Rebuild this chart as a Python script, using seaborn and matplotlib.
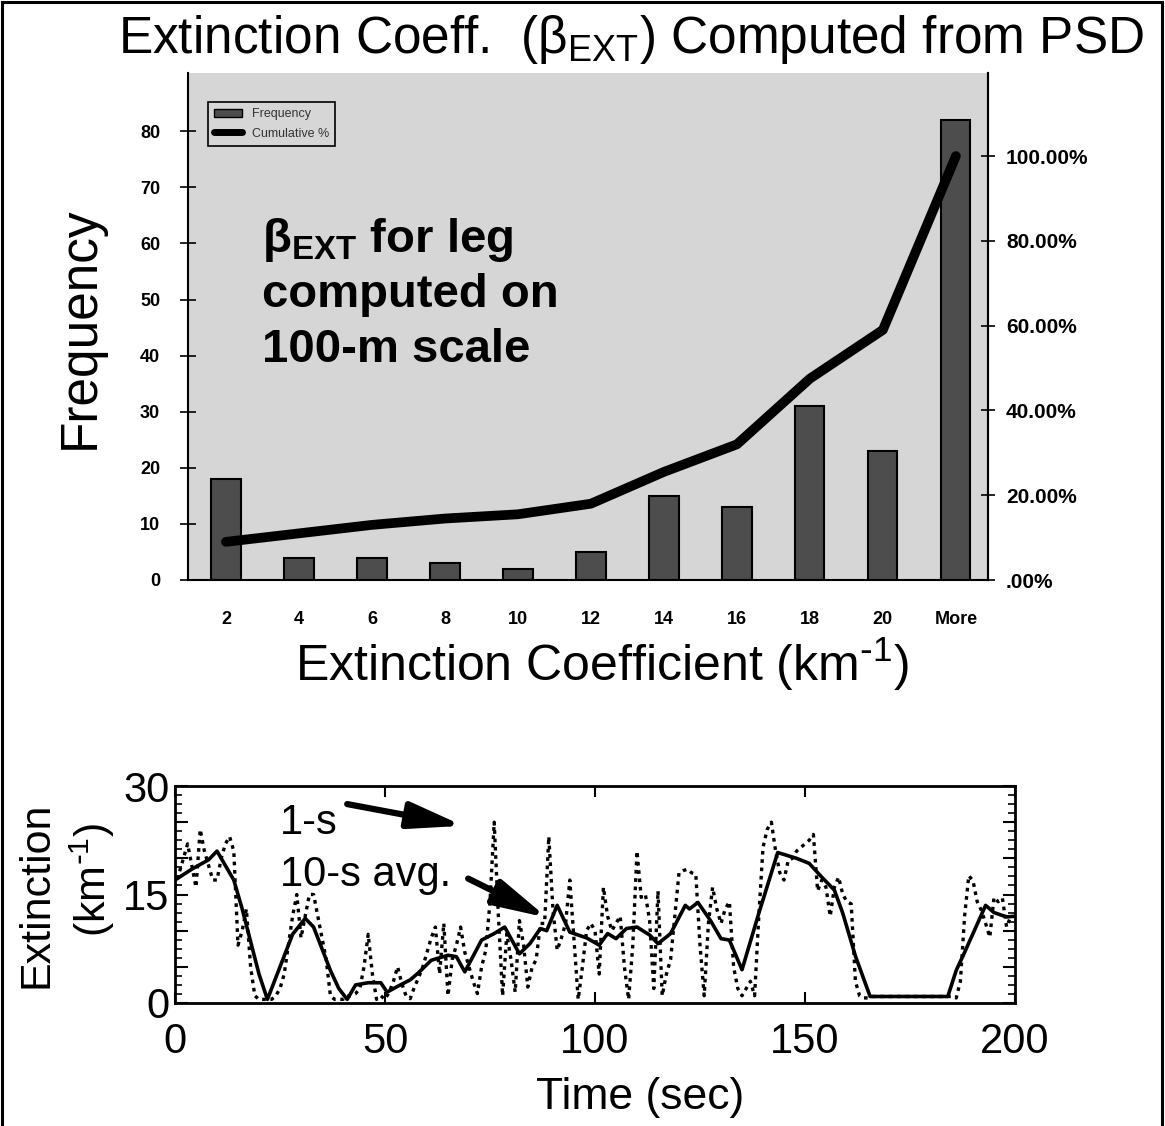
import numpy as np
import pandas as pd
import matplotlib
matplotlib.use("Agg")
import matplotlib.pyplot as plt
import seaborn as sns
from matplotlib.patches import Patch, Rectangle
from matplotlib.lines import Line2D
from matplotlib.ticker import MultipleLocator, FixedLocator

# ---------------- data ----------------
bin_labels = ["2", "4", "6", "8", "10", "12", "14", "16", "18", "20", "More"]
frequency = [18, 4, 4, 3, 2, 5, 15, 13, 31, 23, 82]
cumulative_pct = [9.0, 11.0, 13.0, 14.5, 15.5, 18.0, 25.5, 32.0, 47.5, 59.0, 100.0]
pct_ticks = [0, 20, 40, 60, 80, 100]
pct_tick_labels = [".00%", "20.00%", "40.00%", "60.00%", "80.00%", "100.00%"]
freq_ticks = [0, 10, 20, 30, 40, 50, 60, 70, 80]

# 1-s extinction (km^-1), t = 0..199 s
ext_1s = [
    16, 18, 20, 22, 19, 16, 24, 21, 19, 17,
    17, 20, 22, 23, 21, 8, 10, 13, 5, 1,
    0.5, 0.5, 0.5, 0.5, 1, 2, 4, 8, 12, 15,
    9, 12, 15, 15, 12, 9, 6, 1, 0.5, 0.5,
    0.5, 1, 1, 1.3, 2, 5, 9.5, 4, 0.5, 1,
    0.5, 1.5, 3, 5, 2.7, 1, 0.6, 2.2, 3.5, 5,
    7, 9, 10.5, 4, 11, 1, 6, 8, 10.5, 7,
    5, 3, 1.3, 5, 7.3, 14, 25, 12, 1, 9.6,
    6, 1.5, 11.4, 8, 2.2, 4.9, 6, 11, 11, 23,
    12.8, 7.3, 9, 11, 17, 8.7, 0.5, 5, 10, 11,
    10, 4, 16, 12, 10, 11, 12, 5, 0.5, 8,
    21, 14.6, 15, 11.4, 2, 15.5, 1, 4, 6, 12,
    18, 18.3, 18.5, 18, 17.8, 8, 1, 11, 16, 13,
    11, 13, 14, 5, 2, 1, 2, 3, 1, 12,
    21.5, 24, 25, 21, 18, 17, 19.7, 20, 21, 21.5,
    22, 22.5, 23.3, 15.5, 17, 16, 12, 16, 17.4, 15,
    14, 13.7, 3, 1, 0.7, 0.7, 0.9, 0.9, 0.9, 0.9,
    0.9, 0.9, 0.9, 0.9, 0.9, 0.9, 0.9, 0.9, 0.9, 0.9,
    0.9, 0.9, 0.9, 0.9, 0.9, 0.9, 0.7, 3, 12, 17.6,
    16.9, 14, 12.8, 11, 9.1, 14.6, 14, 14.5, 10.5, 12,
]
time_1s = list(range(len(ext_1s)))

# 10-s average, read at its vertices
time_10s = [0, 4, 8, 10, 12, 14, 16, 18, 20, 22, 24, 26, 28, 31, 33, 35, 37, 39, 41,
            43, 46, 49, 50.5, 53, 56, 58, 61, 65, 67, 69, 71, 73, 76, 78.5, 82, 84.5,
            87, 88.5, 91, 94, 98, 101, 103, 105, 107.5, 110, 113, 115, 118, 121.5,
            122.5, 124.5, 127.5, 130, 132, 135, 139, 143.5, 148, 151, 154, 157, 159,
            162, 165.5, 184, 186, 188, 190, 193, 195, 198, 200]
ext_10s = [17.0, 18.5, 19.8, 21.0, 19.0, 17.0, 13.0, 8.5, 4.0, 0.5, 3.5, 6.5, 9.5, 11.7,
           10.5, 7.5, 4.5, 2.0, 0.5, 2.5, 2.8, 2.8, 1.5, 2.3, 3.2, 4.2, 5.9, 6.6, 6.4,
           4.3, 6.5, 8.7, 9.6, 10.5, 6.8, 8.2, 10.3, 10.0, 13.5, 9.8, 9.0, 8.0, 9.6, 8.9,
           10.3, 10.5, 9.4, 8.2, 9.6, 13.5, 13.0, 13.9, 11.4, 8.9, 8.7, 4.6, 12.4, 20.8,
           20.0, 19.3, 17.4, 15.6, 12.4, 6.5, 0.9, 0.9, 4.5, 7.0, 9.6, 13.5, 12.5, 11.9,
           12.0]
time_ticks = [0, 50, 100, 150, 200]

# ---------------- style ----------------
sns.set_style("white")
plt.rcParams["font.family"] = ["Liberation Sans", "DejaVu Sans"]
plt.rcParams["axes.linewidth"] = 1.5
for key in ["text.color", "axes.labelcolor", "xtick.color", "ytick.color", "axes.edgecolor"]:
    plt.rcParams[key] = "black"

W, H = 1165, 1126
fig = plt.figure(figsize=(W / 100, H / 100), dpi=100)

def fx(px):
    return px / W

def fy(py):
    return 1 - py / H

# ---------------- top: histogram ----------------
ax = fig.add_axes([fx(188), fy(580), fx(988) - fx(188), fy(73) - fy(580)])
ax.set_facecolor("#d6d6d6")
sns.barplot(x=bin_labels, y=frequency, order=bin_labels, color="#4d4d4d",
            saturation=1, width=0.4, edgecolor="black", linewidth=1.5, ax=ax)
ax.set_xlim(-0.52, 10.44)
ax.set_ylim(0, 90.4)
ax.set_xlabel("")
ax.set_ylabel("")
ax.set_yticks(freq_ticks)
ax.set_yticklabels([str(v) for v in freq_ticks], fontsize=13, fontweight="bold")
ax.set_xticks(range(len(bin_labels)))
ax.set_xticklabels(bin_labels, fontsize=13, fontweight="bold")
ax.xaxis.set_minor_locator(FixedLocator(np.arange(0.5, 10, 1.0)))
ax.tick_params(axis="x", which="major", length=0, pad=22)
ax.tick_params(axis="x", which="minor", length=10, width=1.2, direction="inout")
ax.tick_params(axis="y", which="major", length=12, width=1.2, direction="inout", pad=14, left=True)
for s in ["left", "bottom", "right"]:
    ax.spines[s].set_visible(True)
    ax.spines[s].set_color("black")
ax.spines["top"].set_visible(False)

ax2 = ax.twinx()
sns.lineplot(x=list(range(len(cumulative_pct))), y=cumulative_pct, color="black",
             linewidth=7, ax=ax2, legend=False)
ax2.set_ylim(0, 119.6)
ax2.set_ylabel("")
ax2.set_yticks(pct_ticks)
ax2.set_yticklabels(pct_tick_labels, fontsize=15, fontweight="bold")
ax2.tick_params(axis="y", length=10, width=1.2, direction="inout", pad=8, right=True)
for s in ["left", "bottom", "top"]:
    ax2.spines[s].set_visible(False)
ax2.spines["right"].set_visible(True)
ax2.spines["right"].set_color("black")

handles = [Patch(facecolor="#4d4d4d", edgecolor="black", label="Frequency"),
           Line2D([0], [0], color="black", lw=5, label="Cumulative %")]
leg = ax2.legend(handles=handles, loc="upper left", bbox_to_anchor=(0.017, 0.955),
                 fontsize=9, frameon=True, fancybox=False, edgecolor="black",
                 facecolor="#d6d6d6", framealpha=1, borderpad=0.5, handlelength=2.2,
                 labelspacing=0.6)
leg.get_frame().set_linewidth(1.2)
for t in leg.get_texts():
    t.set_color("#333333")

fig.text(fx(262), fy(240), r"$\mathregular{\beta_{EXT}}$ for leg", fontsize=34,
         fontweight="bold", ha="left", va="center", color="black")
fig.text(fx(262), fy(295), "computed on", fontsize=34, fontweight="bold",
         ha="left", va="center", color="black")
fig.text(fx(262), fy(350), "100-m scale", fontsize=34, fontweight="bold",
         ha="left", va="center", color="black")

fig.text(fx(631), fy(53), r"Extinction Coeff.  ($\mathregular{\beta_{EXT}}$) Computed from PSD",
         fontsize=37, ha="center", va="baseline", color="black")
fig.text(fx(602), fy(681), r"Extinction Coefficient (km$\mathregular{^{\text{-}1}}$)",
         fontsize=36, ha="center", va="baseline", color="black")
fig.text(fx(80), fy(328), "Frequency", fontsize=37, rotation=90, ha="center", va="center",
         color="black")

# ---------------- bottom: time series ----------------
bx = fig.add_axes([fx(175), fy(1003), fx(1015) - fx(175), fy(786) - fy(1003)])
bx.set_facecolor("white")
sns.lineplot(x=time_1s, y=ext_1s, color="black", linewidth=2.4,
             linestyle=(0, (1.1, 1.4)), ax=bx, estimator=None)
sns.lineplot(x=time_10s, y=ext_10s, color="black", linewidth=2.6, ax=bx, estimator=None)
bx.set_xlim(0, 200)
bx.set_ylim(0, 30)
bx.set_xlabel("")
bx.set_ylabel("")
bx.set_xticks(time_ticks)
bx.set_xticklabels([str(t) for t in time_ticks], fontsize=30)
bx.set_yticks([0, 5, 10, 15, 20, 25, 30])
bx.set_yticklabels(["0", "", "", "15", "", "", "30"], fontsize=30)
bx.yaxis.set_minor_locator(MultipleLocator(1.25))
bx.tick_params(axis="x", which="major", direction="in", length=8, width=1.5,
               top=True, bottom=True, pad=14)
bx.tick_params(axis="y", which="major", direction="in", length=9, width=1.5,
               left=True, right=True, pad=4)
bx.tick_params(axis="y", which="minor", direction="in", length=5, width=1.2,
               left=True, right=True)
for s in bx.spines.values():
    s.set_visible(True)
    s.set_color("black")
    s.set_linewidth(2)

bx.text(25.0, 23.4, "1-s", fontsize=30, ha="left", va="baseline", color="black")
bx.text(25.0, 16.2, "10-s avg.", fontsize=30, ha="left", va="baseline", color="black")
arrow_kw = dict(arrowstyle="-|>,head_length=1.3,head_width=0.32", color="black",
                lw=4.5, mutation_scale=25, shrinkA=0, shrinkB=0)
bx.annotate("", xy=(68.6, 24.5), xytext=(41.0, 27.5), arrowprops=arrow_kw)
bx.annotate("", xy=(88.6, 11.8), xytext=(69.8, 17.2), arrowprops=arrow_kw)

fig.text(fx(37), fy(895), "Extinction", fontsize=31, rotation=90, ha="center", va="center",
         color="black")
fig.text(fx(92), fy(880), r"(km$\mathregular{^{\text{-}1}}$)", fontsize=31, rotation=90,
         ha="center", va="center", color="black")
fig.text(fx(640), fy(1097), "Time (sec)", fontsize=32, ha="center", va="center",
         color="black")

# outer frame
fig.patches.append(Rectangle((fx(2), -0.01), fx(1162) - fx(2), fy(2) + 0.01,
                             transform=fig.transFigure, fill=False, lw=2.2,
                             edgecolor="black"))

fig.savefig("out.png", dpi=100)
